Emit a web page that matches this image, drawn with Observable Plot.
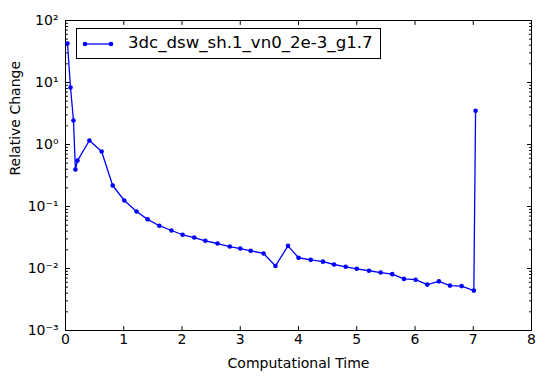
<!DOCTYPE html>
<html>
<head>
<meta charset="utf-8">
<script src="https://cdn.jsdelivr.net/npm/d3@7"></script>
<script src="https://cdn.jsdelivr.net/npm/@observablehq/plot@0.6"></script>
<style>
  html, body { margin: 0; padding: 0; background: #fff; }
  #wrap { position: relative; width: 545px; height: 380px; font-family: "DejaVu Sans", sans-serif; }
  #legend { position: absolute; left: 76px; top: 28px; width: 303px; height: 29px; border: 1px solid #000; background: #fff; }
  #legend svg { position: absolute; left: 0; top: 0; }
  #legend span { position: absolute; left: 51px; top: 4px; font-size: 16.6px; color: #000; white-space: nowrap; }
</style>
</head>
<body>
<div id="wrap"></div>
<script>
const seriesName = "3dc_dsw_sh.1_vn0_2e-3_g1.7";
const times = [0.034, 0.086, 0.137, 0.17, 0.206, 0.41, 0.62, 0.81, 1.01, 1.22, 1.41, 1.61, 1.82, 2.01, 2.21, 2.40, 2.61, 2.82, 3.0, 3.18, 3.40, 3.605, 3.82, 4.0, 4.21, 4.42, 4.61, 4.81, 5.0, 5.21, 5.41, 5.61, 5.81, 6.01, 6.21, 6.41, 6.60, 6.80, 7.01, 7.04];
const values = [42.6, 8.3, 2.44, 0.395, 0.55, 1.16, 0.77, 0.218, 0.125, 0.083, 0.062, 0.049, 0.041, 0.035, 0.0316, 0.028, 0.0253, 0.0226, 0.021, 0.0193, 0.0175, 0.011, 0.0232, 0.0149, 0.0138, 0.0129, 0.0116, 0.01065, 0.0099, 0.0092, 0.0086, 0.0081, 0.0068, 0.0066, 0.0055, 0.0062, 0.0053, 0.0052, 0.0044, 3.5];
const xTicks = [0, 1, 2, 3, 4, 5, 6, 7, 8];
const yTicks = [1e-3, 1e-2, 1e-1, 1e0, 1e1, 1e2];
const yTickLabels = ["10\u207B\u00B3", "10\u207B\u00B2", "10\u207B\u00B9", "10\u2070", "10\u00B9", "10\u00B2"];
const minorMult = [2, 3, 4, 5, 6, 7, 8, 9];

const data = times.map((t, i) => ({t, v: values[i]}));
const yMinor = [];
for (const d of yTicks.slice(0, -1)) for (const m of minorMult) yMinor.push(d * m);

const tickShape = {draw(context, l) { context.moveTo(0, 0); context.lineTo(0, -l); }};
const tk = (arr, opts) => Plot.vector(arr, {shape: tickShape, anchor: "start", stroke: "black", strokeWidth: 1, ...opts});

const plot = Plot.plot({
  width: 545,
  height: 380,
  marginTop: 20,
  marginRight: 14,
  marginBottom: 50,
  marginLeft: 65,
  style: {fontFamily: "DejaVu Sans, sans-serif", fontSize: "14px", background: "#fff", color: "#000"},
  x: {domain: [0, 8]},
  y: {type: "log", domain: [1e-3, 1e2]},
  marks: [
    Plot.frame({stroke: "black", strokeWidth: 1}),
    tk(xTicks, {x: d => d, y: 1e-3, length: 4, rotate: 0}),
    tk(xTicks, {x: d => d, y: 1e2, length: 4, rotate: 180}),
    tk(yTicks, {x: 0, y: d => d, length: 4, rotate: 90}),
    tk(yTicks, {x: 8, y: d => d, length: 4, rotate: -90}),
    tk(yMinor, {x: 0, y: d => d, length: 2, rotate: 90}),
    tk(yMinor, {x: 8, y: d => d, length: 2, rotate: -90}),
    Plot.axisX(xTicks, {tickSize: 0, tickPadding: 4, fontSize: 14, label: null}),
    Plot.axisY(yTicks, {tickSize: 0, tickPadding: 7, fontSize: 14, label: null,
      tickFormat: d => yTickLabels[yTicks.indexOf(d)]}),
    Plot.text(["Computational Time"], {frameAnchor: "bottom", dy: 37, fontSize: 14, lineAnchor: "bottom"}),
    Plot.text(["Relative Change"], {frameAnchor: "left", dx: -50, rotate: -90, fontSize: 14}),
    Plot.line(data, {x: "t", y: "v", stroke: "#0000ff", strokeWidth: 1.3}),
    Plot.dot(data, {x: "t", y: "v", r: 2.3, fill: "#0000ff", stroke: "none"})
  ]
});

const wrap = document.getElementById("wrap");
wrap.appendChild(plot);

const legend = document.createElement("div");
legend.id = "legend";
legend.innerHTML = `<svg width="50" height="29"><line x1="8" y1="15" x2="34" y2="15" stroke="#0000ff" stroke-width="1.3"/><circle cx="8" cy="15" r="2.3" fill="#0000ff"/><circle cx="34" cy="15" r="2.3" fill="#0000ff"/></svg><span>${seriesName}</span>`;
wrap.appendChild(legend);
</script>
</body>
</html>
